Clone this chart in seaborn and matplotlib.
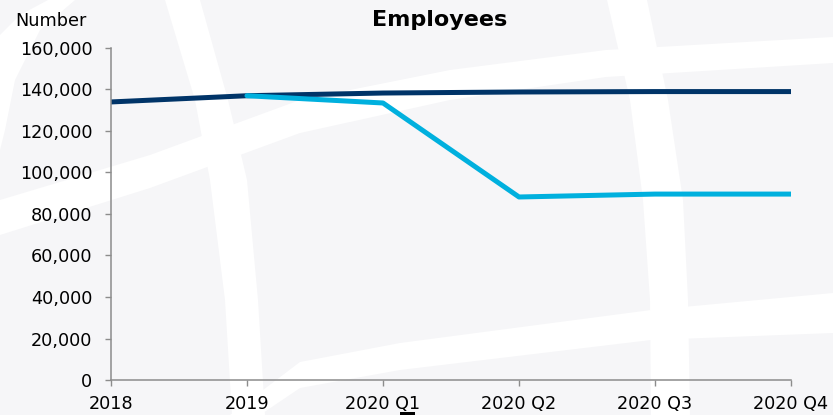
import numpy as np
import pandas as pd
import matplotlib
matplotlib.use("Agg")
import matplotlib.pyplot as plt
from matplotlib.patches import Polygon, Rectangle
from matplotlib.ticker import FuncFormatter
import seaborn as sns

# Employee headcount by period
periods = ["2018", "2019", "2020 Q1", "2020 Q2", "2020 Q3", "2020 Q4"]
projected = [134000, 137000, 138300, 138800, 139000, 139000]
revised = [np.nan, 137000, 133500, 88200, 89600, 89600]
series_names = ["Projected", "Revised"]
y_ticks = [0, 20000, 40000, 60000, 80000, 100000, 120000, 140000, 160000]

title = "Employees"
unit_label = "Number"

DARK = "#003468"
LIGHT = "#00B0DE"
AXIS_GREY = "#8c8c8c"
PAPER = "#f6f6f8"

sns.set_theme(style="white")
plt.rcParams["font.family"] = ["DejaVu Sans"]

W, H = 833, 415
fig = plt.figure(figsize=(W / 100, H / 100), dpi=100, facecolor=PAPER)


def px(points):
    """Convert pixel coordinates (origin top-left) into figure fractions."""
    return [(x / W, 1 - y / H) for x, y in points]


def band(top_edge, bottom_edge):
    poly = Polygon(px(top_edge + bottom_edge[::-1]), closed=True,
                   transform=fig.transFigure, facecolor="white",
                   edgecolor="none", zorder=-10)
    fig.patches.append(poly)


# Soft white swooshes in the backdrop
band([(165, 0), (195, 100), (210, 180), (225, 300), (232, 415)],
     [(200, 0), (228, 100), (247, 180), (258, 300), (265, 415)])
band([(607, 0), (630, 100), (643, 200), (650, 300), (651, 415)],
     [(647, 0), (668, 100), (683, 200), (688, 300), (690, 415)])
band([(0, 200), (150, 155), (300, 100), (450, 70), (606, 50), (833, 37)],
     [(0, 235), (150, 188), (300, 133), (450, 100), (606, 77), (833, 63)])
band([(230, 415), (300, 362), (400, 343), (651, 310), (833, 293)],
     [(260, 415), (300, 388), (400, 370), (651, 340), (833, 333)])
band([(0, 35), (20, 15), (48, 0)],
     [(0, 150), (5, 130), (15, 80), (40, 30), (75, 0)])

ax = fig.add_axes([111 / W, 1 - 380 / H, (791 - 111) / W, (380 - 48) / H])
ax.set_facecolor("none")
ax.set_zorder(1)

df = pd.DataFrame({
    "period": periods * 2,
    "employees": projected + revised,
    "series": [series_names[0]] * len(periods) + [series_names[1]] * len(periods),
})
sns.lineplot(data=df, x="period", y="employees", hue="series",
             hue_order=series_names, palette=[DARK, LIGHT], linewidth=3.6,
             legend=False, errorbar=None, sort=False, ax=ax)

ax.set_xlim(0, len(periods) - 1)
ax.set_ylim(0, 160000)
ax.set_xticks(range(len(periods)))
ax.set_xticklabels(periods)
ax.set_yticks(y_ticks)
ax.yaxis.set_major_formatter(FuncFormatter(lambda v, _: f"{int(v):,}"))
ax.set_xlabel("")
ax.set_ylabel("")

for side in ("top", "right"):
    ax.spines[side].set_visible(False)
for side in ("left", "bottom"):
    ax.spines[side].set_color(AXIS_GREY)
    ax.spines[side].set_linewidth(1.1)

ax.tick_params(axis="both", which="major", direction="out", length=4.5,
               width=1.0, color=AXIS_GREY, labelsize=12.7, labelcolor="black",
               bottom=True, left=True)
ax.tick_params(axis="y", pad=9)
ax.tick_params(axis="x", pad=6)

fig.text(15 / W, 1 - 26 / H, unit_label, fontsize=12.7, ha="left",
         va="baseline", color="black")
fig.text(440 / W, 1 - 26 / H, title, fontsize=16, fontweight="bold",
         ha="center", va="baseline", color="black")

fig.patches.append(Rectangle((400 / W, 0), 15 / W, 3 / H,
                             transform=fig.transFigure, facecolor="black",
                             edgecolor="none", zorder=5))

fig.savefig("out.png", dpi=100, facecolor=fig.get_facecolor())
